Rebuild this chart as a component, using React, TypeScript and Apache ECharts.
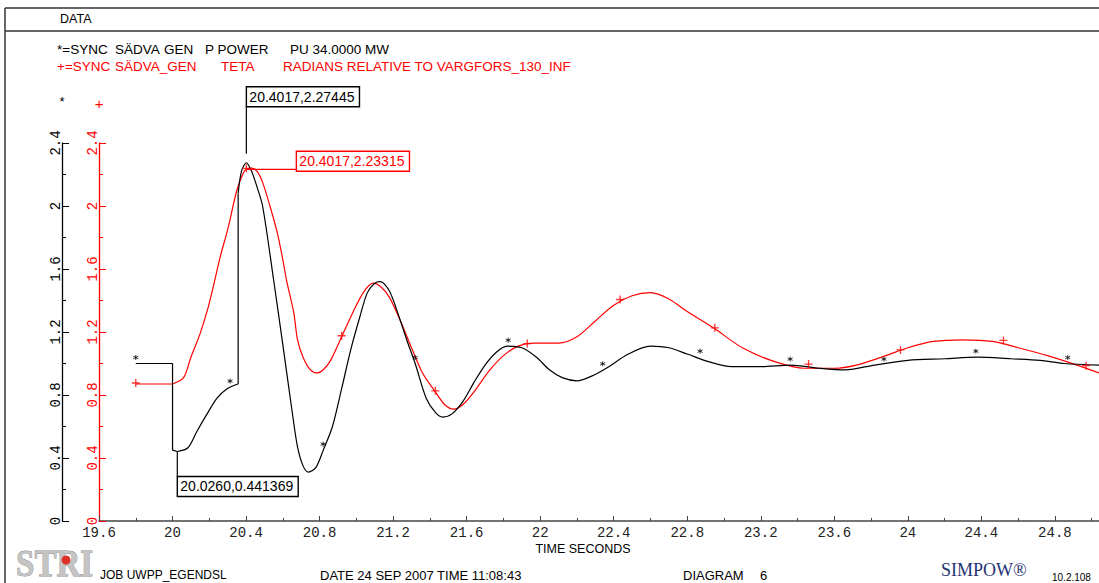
import React, { useEffect, useRef } from "react";
import * as echarts from "echarts";

// Axis ranges
const TIME_MIN = 19.6;
const TIME_MAX = 25.04;
const TIME_STEP = 0.4;
const VALUE_MIN = 0;
const VALUE_MAX = 2.4;
const VALUE_STEP = 0.4;

// P POWER [time s, pu] - split where the trace steps vertically
const powerStep: number[][] = [[19.8, 1.0], [20.0, 1.0], [20.0, 0.45], [20.026, 0.441369]];
const powerRise: number[][] = [
  [20.026, 0.441369], [20.084, 0.465], [20.133, 0.57], [20.188, 0.68],
  [20.242, 0.78], [20.297, 0.84], [20.357, 0.87],
];
const powerJump: number[][] = [[20.357, 0.87], [20.357, 2.08]];
const powerSwing: number[][] = [
  [20.357, 2.08], [20.375, 2.22], [20.4017, 2.27445], [20.43, 2.22], [20.46, 2.12],
  [20.49, 2.0], [20.55, 1.53], [20.6, 1.12], [20.65, 0.7], [20.68, 0.47],
  [20.71, 0.35], [20.74, 0.31], [20.78, 0.34], [20.82, 0.45], [20.87, 0.6],
  [20.92, 0.84], [20.97, 1.09], [21.02, 1.3], [21.06, 1.45], [21.1, 1.51],
  [21.13, 1.52], [21.18, 1.46], [21.24, 1.27], [21.28, 1.13], [21.32, 1.0],
  [21.38, 0.78], [21.43, 0.69], [21.47, 0.66], [21.52, 0.68], [21.58, 0.76],
  [21.64, 0.88], [21.7, 0.99], [21.76, 1.07], [21.82, 1.11], [21.9, 1.1],
  [21.98, 1.04], [22.05, 0.96], [22.12, 0.91], [22.2, 0.89], [22.28, 0.92],
  [22.36, 0.97], [22.48, 1.06], [22.6, 1.11], [22.7, 1.1], [22.8, 1.06],
  [22.92, 1.01], [23.04, 0.98], [23.2, 0.98], [23.36, 0.99], [23.52, 0.97],
  [23.66, 0.96], [23.82, 0.99], [24.0, 1.02], [24.2, 1.03], [24.38, 1.04],
  [24.56, 1.03], [24.72, 1.02], [24.85, 1.0], [25.04, 0.99],
];
const powerMarkT = [19.8, 20.313, 20.819, 21.32, 21.826, 22.34, 22.87, 23.36, 23.87, 24.37, 24.87];
const powerMarkV = [1.0, 0.85, 0.45, 1.0, 1.11, 0.96, 1.04, 0.99, 0.99, 1.04, 1.0];

// TETA [time s, rad]
const angleHold: number[][] = [[19.8, 0.87], [20.0, 0.87]];
const angleSwing: number[][] = [
  [20.0, 0.87], [20.06, 0.91], [20.1, 1.04], [20.15, 1.19], [20.19, 1.34],
  [20.22, 1.48], [20.26, 1.68], [20.3, 1.85], [20.35, 2.1], [20.385, 2.21],
  [20.4017, 2.23315], [20.43, 2.24], [20.46, 2.22], [20.49, 2.15], [20.53, 2.0],
  [20.57, 1.83], [20.6, 1.66], [20.62, 1.53], [20.66, 1.32], [20.68, 1.15],
  [20.71, 1.04], [20.75, 0.96], [20.79, 0.94], [20.82, 0.96], [20.86, 1.02],
  [20.92, 1.17], [21.0, 1.37], [21.05, 1.47], [21.09, 1.51], [21.13, 1.49],
  [21.18, 1.42], [21.24, 1.27], [21.3, 1.1], [21.36, 0.94], [21.43, 0.82],
  [21.48, 0.74], [21.53, 0.71], [21.58, 0.74], [21.64, 0.82], [21.72, 0.95],
  [21.8, 1.05], [21.88, 1.11], [21.96, 1.13], [22.1, 1.13], [22.2, 1.17],
  [22.3, 1.27], [22.4, 1.37], [22.5, 1.43], [22.6, 1.45], [22.7, 1.41],
  [22.8, 1.33], [22.95, 1.22], [23.1, 1.1], [23.28, 1.01], [23.44, 0.97],
  [23.6, 0.97], [23.72, 0.99], [23.88, 1.05], [24.0, 1.1], [24.14, 1.14],
  [24.3, 1.15], [24.46, 1.14], [24.6, 1.1], [24.76, 1.05], [24.92, 0.99],
  [25.04, 0.94],
];
const angleMarkT = [19.8, 20.4017, 20.92, 21.43, 21.93, 22.435, 22.95, 23.46, 23.96, 24.52, 24.97];
const angleMarkV = [0.87, 2.23315, 1.17, 0.82, 1.12, 1.4, 1.22, 0.99, 1.08, 1.14, 0.98];

// Cursor read-outs
const powerPeak = [20.4017, 2.27445];
const powerDip = [20.026, 0.441369];
const anglePeak = [20.4017, 2.23315];

const BLACK = "#000000";
const RED = "#ff0000";
const AXIS_GREY = "#444444";
const SANS = '"Liberation Sans", Arial, sans-serif';
const MONO = '"Liberation Mono", "DejaVu Sans Mono", monospace';
const SERIF = '"Liberation Serif", "DejaVu Serif", serif';

const STAR = "path://M5,0L5,10M0.67,2.5L9.33,7.5M0.67,7.5L9.33,2.5";
const PLUS = "path://M0,5L10,5M5,0L5,10";

const zip = (t: number[], v: number[]) => t.map((x, i) => [x, v[i]]);
const readout = (p: number[]) => `${p[0].toFixed(4)},${p[1]}`;

function measure(text: string, font: string): number {
  const ctx = document.createElement("canvas").getContext("2d");
  if (!ctx) return text.length * 7;
  ctx.font = font;
  return ctx.measureText(text).width;
}

function trace(data: number[][], color: string, smooth: boolean, yAxisIndex: number) {
  return {
    type: "line",
    data,
    yAxisIndex,
    smooth: smooth ? 0.3 : false,
    showSymbol: false,
    symbol: "none",
    silent: true,
    lineStyle: { color, width: 1.2 },
    itemStyle: { color },
    z: 3,
  };
}

function valueAxis(color: string, offset: number, name: string, nameGap: number, nameSize: number) {
  return {
    type: "value",
    position: "left",
    offset,
    min: VALUE_MIN,
    max: VALUE_MAX,
    interval: VALUE_STEP,
    name,
    nameLocation: "end",
    nameGap,
    nameTextStyle: { color, fontFamily: SANS, fontSize: nameSize, align: "center" },
    axisLine: { show: true, onZero: false, lineStyle: { color, width: 1.3 } },
    axisTick: { show: true, inside: true, length: 7, lineStyle: { color, width: 1 } },
    minorTick: { show: true, splitNumber: 2, length: 4, lineStyle: { color, width: 1 } },
    splitLine: { show: false },
    minorSplitLine: { show: false },
    axisLabel: {
      rotate: 90,
      margin: -1,
      color,
      fontFamily: MONO,
      fontSize: 14,
      formatter: (v: number) => String(Math.round(v * 10) / 10),
    },
  };
}

function txt(text: string, x: number, y: number, size: number, color = BLACK, family = SANS, extra: any = {}) {
  return {
    type: "text",
    x,
    y,
    silent: true,
    z: 10,
    style: { text, fill: color, fontSize: size, fontFamily: family, verticalAlign: "middle", ...extra },
  };
}

function hline(x1: number, y1: number, x2: number, y2: number, color: string, width = 1) {
  return {
    type: "line",
    silent: true,
    z: 10,
    shape: { x1, y1, x2, y2 },
    style: { stroke: color, lineWidth: width },
  };
}

export default function App() {
  const ref = useRef<HTMLDivElement>(null);

  useEffect(() => {
    const el = ref.current;
    if (!el) return;
    const chart = echarts.init(el, null, { renderer: "svg" });

    chart.setOption({
      animation: false,
      backgroundColor: "#ffffff",
      textStyle: { fontFamily: SANS },
      grid: { left: 99, right: 0, top: 143, bottom: 62, containLabel: false, outerBoundsMode: "none" },
      xAxis: {
        type: "value",
        min: TIME_MIN,
        max: TIME_MAX,
        interval: TIME_STEP,
        axisLine: { onZero: false, lineStyle: { color: AXIS_GREY, width: 1.5 } },
        axisTick: { inside: true, length: 5, lineStyle: { color: AXIS_GREY, width: 1 } },
        minorTick: { show: true, splitNumber: 2, length: 3, lineStyle: { color: AXIS_GREY, width: 1 } },
        splitLine: { show: false },
        minorSplitLine: { show: false },
        axisLabel: {
          showMaxLabel: false,
          margin: 5,
          color: "#222222",
          fontFamily: MONO,
          fontSize: 14,
          formatter: (v: number) => String(Math.round(v * 10) / 10),
        },
      },
      yAxis: [
        valueAxis(RED, 0, "+", 32, 15),
        valueAxis(BLACK, 37, "*", 35, 13),
      ],
      series: [
        trace(angleHold, RED, false, 0),
        trace(angleSwing, RED, true, 0),
        trace(powerStep, BLACK, false, 1),
        trace(powerRise, BLACK, true, 1),
        trace(powerJump, BLACK, false, 1),
        trace(powerSwing, BLACK, true, 1),
        {
          type: "scatter",
          yAxisIndex: 0,
          data: zip(angleMarkT, angleMarkV),
          symbol: PLUS,
          symbolSize: 8,
          symbolOffset: [0, -1],
          silent: true,
          itemStyle: { color: "none", borderColor: RED, borderWidth: 1.3 },
          z: 5,
        },
        {
          type: "scatter",
          yAxisIndex: 1,
          data: zip(powerMarkT, powerMarkV),
          symbol: STAR,
          symbolSize: 5,
          symbolOffset: [0, -6],
          silent: true,
          itemStyle: { color: "none", borderColor: BLACK, borderWidth: 1 },
          z: 5,
        },
      ],
    });

    const px = (p: number[]) => chart.convertToPixel({ xAxisIndex: 0, yAxisIndex: 0 }, p) as number[];
    const boxFont = `14px ${SANS}`;
    const graphic: any[] = [];

    // Page frame and header
    graphic.push(hline(5, 8, 1099, 8, "#333333", 1.5));
    graphic.push(hline(5, 31, 1099, 31, "#333333", 1.5));
    graphic.push(hline(5, 8, 5, 583, "#333333", 1.5));
    graphic.push(txt("DATA", 60, 19, 12.5));

    // Signal descriptions
    const legendSize = 13.5;
    graphic.push(txt("*=SYNC", 57, 49, legendSize));
    graphic.push(txt("SÄDVA", 115, 49, legendSize));
    graphic.push(txt("GEN", 164, 49, legendSize));
    graphic.push(txt("P POWER", 205, 49, legendSize));
    graphic.push(txt("PU 34.0000 MW", 290, 49, legendSize));
    graphic.push(txt("+=SYNC", 57, 66, legendSize, RED));
    graphic.push(txt("SÄDVA_GEN", 115, 66, legendSize, RED));
    graphic.push(txt("TETA", 221, 66, legendSize, RED));
    graphic.push(txt("RADIANS RELATIVE TO VARGFORS_130_INF", 283, 66, legendSize, RED));

    // Axis title
    graphic.push(txt("TIME SECONDS", 583, 549, 12.5, BLACK, SANS, { align: "center" }));

    // Footer logo
    const logo = txt("STRI", 16, 563, 38, "#c4c4c4", SERIF, {
      fontWeight: "bold", stroke: "#8a8a8a", lineWidth: 0.8,
    }) as any;
    logo.scaleX = 0.87;
    graphic.push(logo);
    graphic.push({
      type: "circle", silent: true, z: 11,
      shape: { cx: 66, cy: 560, r: 4.5 },
      style: { fill: "#e0302a" },
    });
    graphic.push(txt("JOB UWPP_EGENDSL", 100, 575, 12));
    graphic.push(txt("DATE 24 SEP 2007 TIME 11:08:43", 320, 575, 13));
    graphic.push(txt("DIAGRAM", 683, 575, 13));
    graphic.push(txt("6", 760, 575, 13));
    graphic.push(txt("SIMPOW®", 941, 570, 18, "#1f3373", SERIF));
    graphic.push(txt("10.2.108", 1052, 577, 10));

    // Read-out: power peak (box above, leader down to the curve)
    {
      const [x, y] = px(powerPeak);
      const label = readout(powerPeak);
      const w = measure(label, boxFont) + 8;
      graphic.push(hline(x, y - 9, x, y - 56, BLACK, 1.2));
      graphic.push({
        type: "rect", silent: true, z: 10,
        shape: { x, y: y - 76, width: w, height: 20 },
        style: { fill: "#ffffff", stroke: BLACK, lineWidth: 1.4 },
      });
      graphic.push(txt(label, x + 3, y - 66, 14, BLACK));
    }
    // Read-out: angle peak (box to the right)
    {
      const [x, y] = px(anglePeak);
      const label = readout(anglePeak);
      const w = measure(label, boxFont) + 8;
      graphic.push(hline(x, y, x + 50, y, RED, 1.2));
      graphic.push({
        type: "rect", silent: true, z: 10,
        shape: { x: x + 50, y: y - 18, width: w, height: 20 },
        style: { fill: "#ffffff", stroke: RED, lineWidth: 1.4 },
      });
      graphic.push(txt(label, x + 53, y - 8, 14, RED));
    }
    // Read-out: power dip (box below)
    {
      const [x, y] = px(powerDip);
      const label = readout(powerDip);
      const w = measure(label, boxFont) + 8;
      graphic.push(hline(x, y, x, y + 25, BLACK, 1.2));
      graphic.push({
        type: "rect", silent: true, z: 10,
        shape: { x, y: y + 25, width: w, height: 20 },
        style: { fill: "#ffffff", stroke: BLACK, lineWidth: 1.4 },
      });
      graphic.push(txt(label, x + 3, y + 35, 14, BLACK));
    }

    chart.setOption({ graphic });

    return () => chart.dispose();
  }, []);

  return (
    <div
      ref={ref}
      style={{ position: "absolute", left: 0, top: 0, width: 1099, height: 583, background: "#ffffff" }}
    />
  );
}
